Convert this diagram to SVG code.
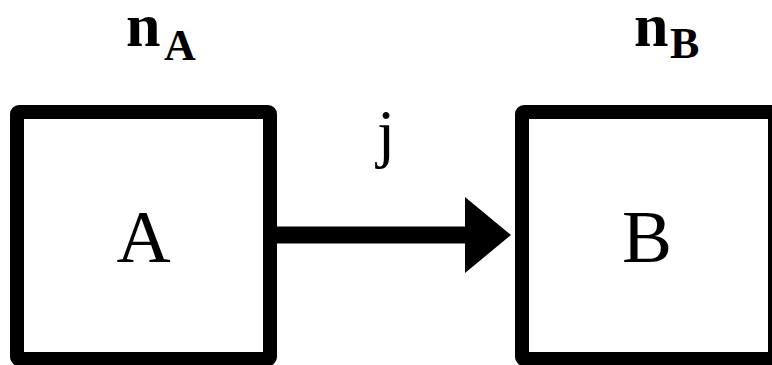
<svg xmlns="http://www.w3.org/2000/svg" width="772" height="365" viewBox="0 0 772 365">
<style>
.box{fill:#fff;stroke:#000;stroke-width:14;stroke-linejoin:round}
text{font-family:"Liberation Serif","Times New Roman",Times,serif;fill:#000}
.big{font-size:75px}
.title{font-size:62px;font-weight:bold}
.sub{font-size:44px;font-weight:bold}
</style>
<rect width="772" height="365" fill="#fff"/>
<g id="nodeA">
<rect class="box" x="17" y="112" width="253" height="247" rx="2"/>
<text class="big" x="143.5" y="262" text-anchor="middle">A</text>
</g>
<g id="nodeB">
<rect class="box" x="522" y="112" width="253" height="247" rx="2"/>
<text class="big" x="647" y="262" text-anchor="middle">B</text>
</g>
<g id="titleA">
<text class="title" x="126" y="46">n<tspan class="sub" x="164" y="60">A</tspan></text>
</g>
<g id="titleB">
<text class="title" x="634" y="46">n<tspan class="sub" x="670" y="58">B</tspan></text>
</g>
<g id="connectors">
<line x1="270" y1="235" x2="468" y2="235" stroke="#000" stroke-width="17"/>
<polygon points="465,197 511,235 465,273" fill="#000"/>
<text x="386" y="155" font-size="65" text-anchor="middle">j</text>
</g>
</svg>
